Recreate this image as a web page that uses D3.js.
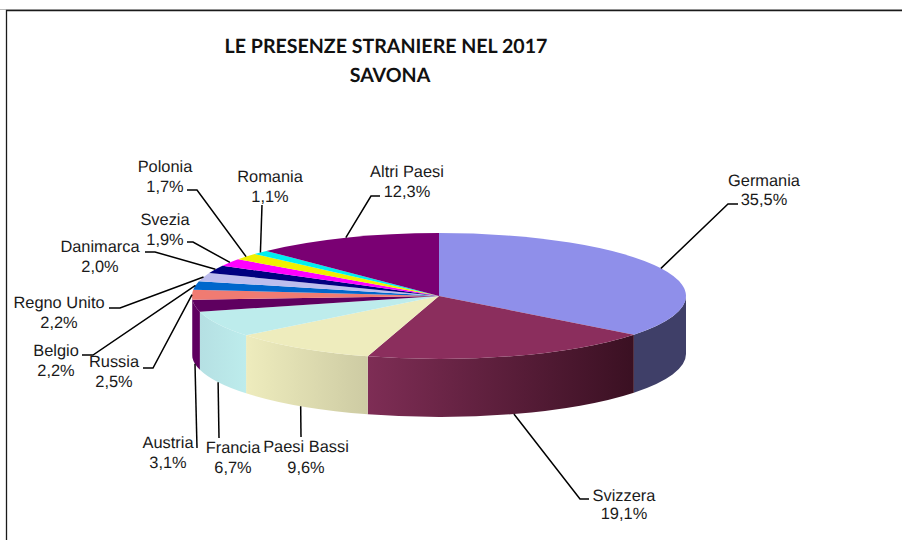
<!DOCTYPE html>
<html><head><meta charset="utf-8">
<script src="https://cdn.jsdelivr.net/npm/d3@7/dist/d3.min.js"></script>
<style>html,body{margin:0;padding:0;background:#fff}svg{display:block}text{text-rendering:geometricPrecision}</style>
</head><body><svg id="c" width="902" height="540"></svg>
<script>
const titleLines = ["LE PRESENZE STRANIERE NEL 2017", "SAVONA"];
const categories = ["Germania","Svizzera","Paesi Bassi","Francia","Austria","Russia","Belgio","Regno Unito","Danimarca","Svezia","Polonia","Romania","Altri Paesi"];
const values = [35.5,19.1,9.6,6.7,3.1,2.5,2.2,2.2,2.0,1.9,1.7,1.1,12.3];
const topColors = ["#8f8fea","#8b2e5d","#eeecbd","#bdecec","#5f0060","#f07b72","#0066cc","#bdbdee","#000080","#ff00ff","#f0f000","#00efef","#7a0073"];
const sideFrom = ["#3f3f68","#7e2d55","#eeecbd","#b5e0e3","#5f0060","#5f0060","#0066cc","#bdbdee","#000080","#ff00ff","#f0f000","#00efef","#7a0073"];
const sideTo   = ["#3f3f68","#3a1022","#cdcba3","#bdecec","#5f0060","#5f0060","#0066cc","#bdbdee","#000080","#ff00ff","#f0f000","#00efef","#7a0073"];
// label layout: text centre x, first line baseline y, second line baseline y
const labelPos = [[764,186,205],[624,501,519],[306,452,473],[233,453,473],[168,448,468],[114,367,387],[56,356,376],[59,308,328],[100,252,272],[165,225,245],[165,172,191.5],[270,182,201.5],[407,177,196.5]];
// leader routes, from the label to the elbow (the end on the pie comes from the slice angle)
const leaders = [[[738,204],[728,204]],[[589,499],[580,499]],[[301,437]],[[219,438]],[[197,448]],[[143,368],[153,368]],[[82,355],[93,355]],[[109,308],[120,308]],[[145,252],[155,252]],[[187,242],[193,242]],[[187,190],[197,190]],[[262,205]],[[380,196],[371,196]]];

const cx = 439, cy = 296, rx = 247, ry = 63, depth = 58;
const svg = d3.select("#c");
const fmt = v => v.toFixed(1).replace(".", ",") + "%";
const pt = (a, dy = 0) => [cx + rx * Math.sin(a), cy - ry * Math.cos(a) + dy];

// frame
svg.append("path").attr("d","M0,9.5H902").attr("stroke","#bbb").attr("stroke-width",1);
svg.append("path").attr("d","M6.5,540V10.5H902").attr("fill","none").attr("stroke","#1a1a1a").attr("stroke-width",1.3);

const arcs = d3.pie().sort(null).value(d => d)(values);
const defs = svg.append("defs");
const arcGen = d3.arc().innerRadius(0).outerRadius(rx);

// side walls (only the front half of the disc shows)
const lo = Math.PI / 2, hi = 3 * Math.PI / 2;
arcs.forEach((d, i) => {
  const a0 = Math.max(d.startAngle, lo), a1 = Math.min(d.endAngle, hi);
  if (a1 <= a0) return;
  const [x0, y0] = pt(a0), [x1, y1] = pt(a1);
  const g = defs.append("linearGradient").attr("id","side"+i)
    .attr("gradientUnits","userSpaceOnUse").attr("x1",d3.min([x0,x1])).attr("x2",d3.max([x0,x1])).attr("y1",0).attr("y2",0);
  g.append("stop").attr("offset",0).attr("stop-color",sideFrom[i]);
  g.append("stop").attr("offset",1).attr("stop-color",sideTo[i]);
  svg.append("path").attr("fill",`url(#side${i})`)
    .attr("d",`M${x0},${y0}A${rx},${ry} 0 0 1 ${x1},${y1}L${x1},${y1+depth}A${rx},${ry} 0 0 0 ${x0},${y0+depth}Z`);
});

// top face
svg.append("g").attr("transform",`translate(${cx},${cy}) scale(1,${ry/rx})`)
  .selectAll("path").data(arcs).join("path")
  .attr("d",arcGen).attr("fill",(d,i)=>topColors[i]);

// leaders
arcs.forEach((d,i)=>{
  const mid = (d.startAngle + d.endAngle) / 2;
  const front = mid > lo && mid < hi && i < 5;
  const end = pt(mid, front ? depth : 0);
  svg.append("path").attr("fill","none").attr("stroke","#000").attr("stroke-width",1.5)
    .attr("d",d3.line()([...leaders[i], end]));
});

// labels
const lab = svg.append("g").attr("font-family","'Liberation Sans',Arial,sans-serif").attr("font-size",16.4).attr("fill","#1a1a1a").attr("text-anchor","middle");
categories.forEach((c,i)=>{
  const [x,y,y2] = labelPos[i];
  lab.append("text").attr("x",x).attr("y",y).text(c);
  lab.append("text").attr("x",x).attr("y",y2).text(fmt(values[i]));
});

// title
svg.append("g").attr("font-family","Lato,sans-serif").attr("font-weight",700).attr("font-size",19.6).attr("fill","#111").attr("text-anchor","middle")
  .selectAll("text").data(titleLines).join("text")
  .attr("x",(d,i)=>i?390:386).attr("y",(d,i)=>i?82:53).text(d=>d);
</script></body></html>
